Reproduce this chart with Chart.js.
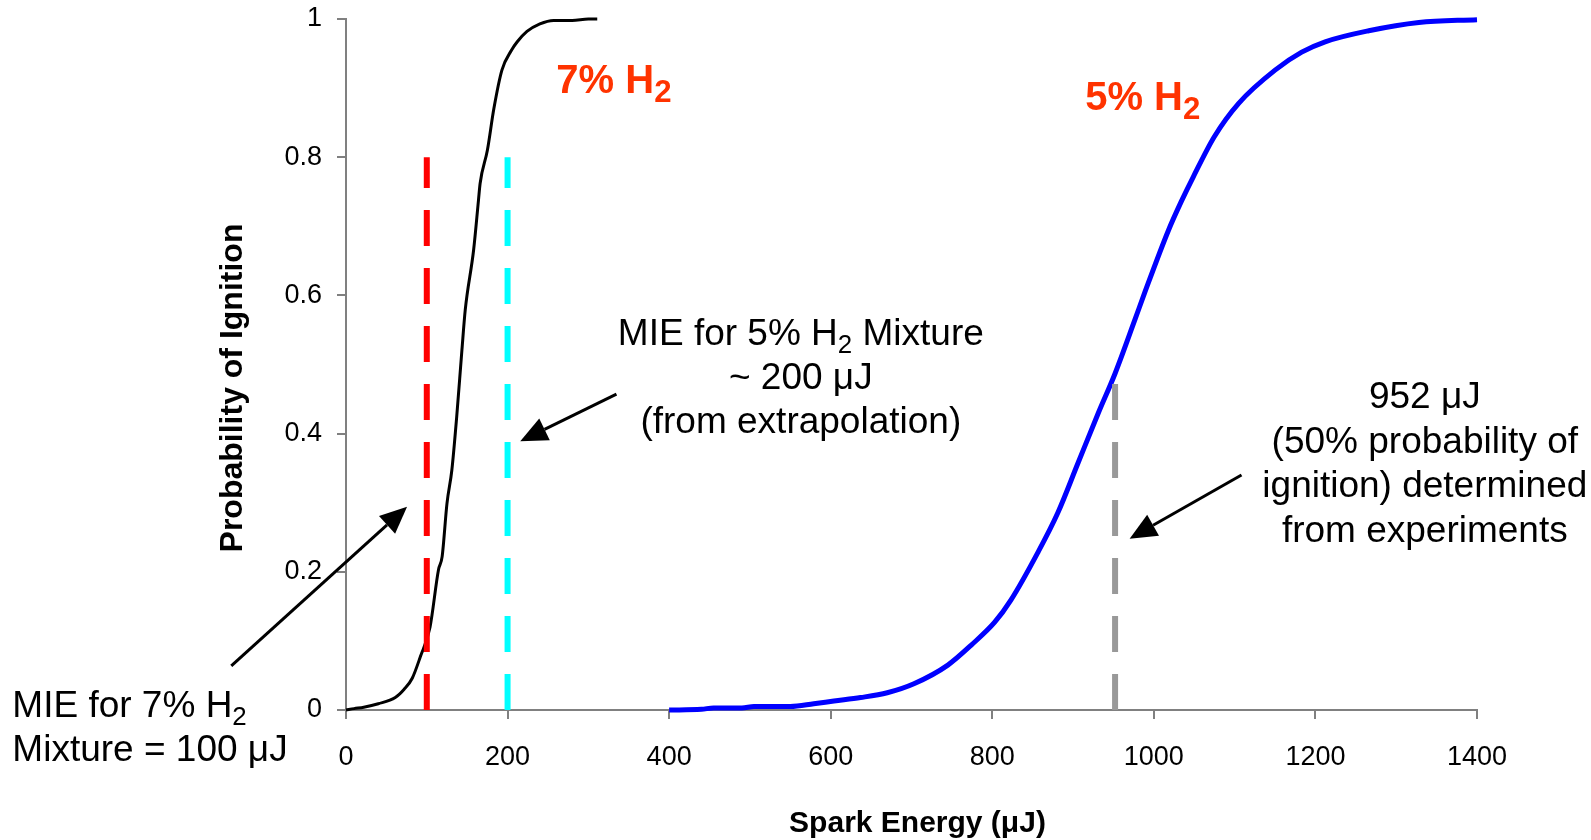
<!DOCTYPE html>
<html lang="en">
<head>
<meta charset="UTF-8">
<title>Probability of Ignition</title>
<script src="https://cdn.jsdelivr.net/npm/chart.js"></script>
<style>
  body { margin: 0; background: #fff; }
  #wrap { width: 1591px; height: 840px; }
</style>
</head>
<body>
<div id="wrap"><canvas id="ignition" width="1591" height="840"></canvas></div>
<script>
// 7% H2 mixture
const energy7 = [0, 10, 22, 40, 61, 72, 82, 92, 104, 114.5, 119, 125, 131, 137, 143.5, 147.6, 158, 164, 166, 175, 183, 193, 205, 212, 224, 240, 257, 280, 300, 311];
const prob7 = [0, 0.002, 0.004, 0.009, 0.018, 0.03, 0.046, 0.077, 0.12, 0.203, 0.222, 0.299, 0.347, 0.424, 0.521, 0.579, 0.666, 0.738, 0.762, 0.81, 0.87, 0.926, 0.955, 0.967, 0.982, 0.993, 0.998, 0.998, 1.0, 1.0];

// 5% H2 mixture
const energy5 = [400, 440, 455, 490, 505, 550, 579, 604, 637, 670, 703, 745, 774, 803, 823, 856, 881, 906, 931, 952, 976, 989, 1018, 1034, 1049, 1075, 1105, 1150, 1183, 1212, 1266, 1328, 1400];
const prob5 = [0, 0.001, 0.003, 0.003, 0.005, 0.005, 0.009, 0.013, 0.018, 0.025, 0.038, 0.065, 0.094, 0.127, 0.159, 0.227, 0.285, 0.357, 0.429, 0.487, 0.563, 0.605, 0.694, 0.736, 0.772, 0.83, 0.878, 0.926, 0.952, 0.967, 0.983, 0.995, 0.999];

// dashed marker lines (MIE 7%, MIE 5%, 50% point)
const markerEnergy = [100, 200, 952];
const markerTop = [0.8, 0.8, 0.473];
const markerColors = ['#ff0000', '#00ffff', '#999999'];

const xTicks = [0, 200, 400, 600, 800, 1000, 1200, 1400];
const yTicks = [0, 0.2, 0.4, 0.6, 0.8, 1];

const FONT = "'Liberation Sans', Arial, sans-serif";

function toPoints(xs, ys) {
    return xs.map((x, i) => ({ x: x, y: ys[i] }));
}

const datasets = [];
markerEnergy.forEach((e, i) => {
    datasets.push({
        data: [{ x: e, y: 0 }, { x: e, y: markerTop[i] }],
        borderColor: markerColors[i],
        borderWidth: 6,
        borderDash: [36, 22],
        borderCapStyle: 'butt',
        pointRadius: 0,
        showLine: true,
        order: 0
    });
});
datasets.push({
    data: toPoints(energy7, prob7),
    borderColor: '#000000',
    borderWidth: 3,
    pointRadius: 0,
    showLine: true,
    cubicInterpolationMode: 'monotone',
    order: 1
});
datasets.push({
    data: toPoints(energy5, prob5),
    borderColor: '#0000ff',
    borderWidth: 5,
    pointRadius: 0,
    showLine: true,
    cubicInterpolationMode: 'monotone',
    order: 1
});

// annotation arrows, tail -> tip, in data units
const arrows = [
    { from: [-142, 0.064], to: [75.6, 0.294] },
    { from: [334.8, 0.457], to: [215.7, 0.389] },
    { from: [1108.5, 0.340], to: [970, 0.248] }
];

// text blocks; a segment in braces is a subscript
const notes = [
    { x: 563, y: 0.528, align: 'center', lh: 44, lines: ['MIE for 5% H{2} Mixture', '~ 200 \u03bcJ', '(from extrapolation)'] },
    { x: 1335.4, y: 0.437, align: 'center', lh: 44.7, lines: ['952 \u03bcJ', '(50% probability of', 'ignition) determined', 'from experiments'] },
    { x: -413, y: -0.01, align: 'left', lh: 44, lines: ['MIE for 7% H{2}', 'Mixture = 100 \u03bcJ'] }
];
const curveLabels = [
    { x: 260.4, y: 0.893, text: '7% H{2}' },
    { x: 915, y: 0.868, text: '5% H{2}' }
];

function splitRich(str) {
    const out = [];
    str.split(/(\{[^}]*\})/).forEach(p => {
        if (!p) return;
        if (p[0] === '{') out.push({ t: p.slice(1, -1), sub: true });
        else out.push({ t: p, sub: false });
    });
    return out;
}

function drawRich(ctx, str, x, y, size, weight, color, align, subRatio) {
    const parts = splitRich(str);
    const subSize = size * subRatio;
    let total = 0;
    parts.forEach(p => {
        ctx.font = weight + ' ' + (p.sub ? subSize : size) + 'px ' + FONT;
        p.w = ctx.measureText(p.t).width;
        total += p.w;
    });
    let cx = align === 'center' ? x - total / 2 : x;
    ctx.fillStyle = color;
    ctx.textAlign = 'left';
    ctx.textBaseline = 'alphabetic';
    parts.forEach(p => {
        ctx.font = weight + ' ' + (p.sub ? subSize : size) + 'px ' + FONT;
        ctx.fillText(p.t, cx, p.sub ? y + size * 0.22 : y);
        cx += p.w;
    });
}

const annotate = {
    id: 'annotate',
    afterDraw(chart) {
        const ctx = chart.ctx;
        const xs = chart.scales.x, ys = chart.scales.y;
        const px = v => xs.getPixelForValue(v);
        const py = v => ys.getPixelForValue(v);
        ctx.save();

        // arrows
        arrows.forEach(a => {
            const x1 = px(a.from[0]), y1 = py(a.from[1]);
            const x2 = px(a.to[0]), y2 = py(a.to[1]);
            const ang = Math.atan2(y2 - y1, x2 - x1);
            const len = 27, half = 12;
            const bx = x2 - len * Math.cos(ang), by = y2 - len * Math.sin(ang);
            ctx.strokeStyle = '#000';
            ctx.lineWidth = 3;
            ctx.beginPath();
            ctx.moveTo(x1, y1);
            ctx.lineTo(bx, by);
            ctx.stroke();
            ctx.fillStyle = '#000';
            ctx.beginPath();
            ctx.moveTo(x2, y2);
            ctx.lineTo(bx + half * Math.sin(ang), by - half * Math.cos(ang));
            ctx.lineTo(bx - half * Math.sin(ang), by + half * Math.cos(ang));
            ctx.closePath();
            ctx.fill();
        });

        notes.forEach(n => {
            n.lines.forEach((line, i) => {
                drawRich(ctx, line, px(n.x), py(n.y) + i * n.lh, 37, 'normal', '#000', n.align, 0.7);
            });
        });

        curveLabels.forEach(l => {
            drawRich(ctx, l.text, px(l.x), py(l.y), 40, 'bold', '#ff3300', 'left', 0.78);
        });

        // axis titles
        const area = chart.chartArea;
        ctx.fillStyle = '#000';
        ctx.font = 'bold 30px ' + FONT;
        ctx.textAlign = 'center';
        ctx.textBaseline = 'alphabetic';
        ctx.fillText('Spark Energy (\u03bcJ)', (area.left + area.right) / 2 + 6, 832);
        ctx.font = 'bold 32px ' + FONT;
        ctx.translate(242, 388);
        ctx.rotate(-Math.PI / 2);
        ctx.fillText('Probability of Ignition', 0, 0);
        ctx.restore();
    }
};

new Chart(document.getElementById('ignition'), {
    type: 'scatter',
    data: { datasets: datasets },
    options: {
        responsive: false,
        devicePixelRatio: 1,
        animation: false,
        layout: { padding: { top: 19, right: 114, left: 0, bottom: 0 } },
        plugins: { legend: { display: false }, tooltip: { enabled: false } },
        elements: { line: { tension: 0, fill: false } },
        datasets: { scatter: { clip: false } },
        scales: {
            x: {
                type: 'linear',
                min: 0,
                max: 1400,
                afterFit: s => { s.height = 130; },
                afterBuildTicks: s => { s.ticks = xTicks.map(v => ({ value: v })); },
                border: { color: '#808080', width: 2 },
                grid: { drawOnChartArea: false, tickLength: 9, color: '#808080', lineWidth: 2 },
                ticks: { color: '#000', padding: 22, maxRotation: 0, callback: v => String(v), font: { family: FONT, size: 27 } }
            },
            y: {
                type: 'linear',
                min: 0,
                max: 1,
                afterFit: s => { s.width = 346; s.paddingTop = 0; s.paddingBottom = 0; },
                afterBuildTicks: s => { s.ticks = yTicks.map(v => ({ value: v })); },
                border: { color: '#808080', width: 2 },
                grid: { drawOnChartArea: false, tickLength: 9, color: '#808080', lineWidth: 2 },
                ticks: { color: '#000', padding: 15, callback: v => String(v), font: { family: FONT, size: 27 } }
            }
        }
    },
    plugins: [annotate]
});
</script>
</body>
</html>
